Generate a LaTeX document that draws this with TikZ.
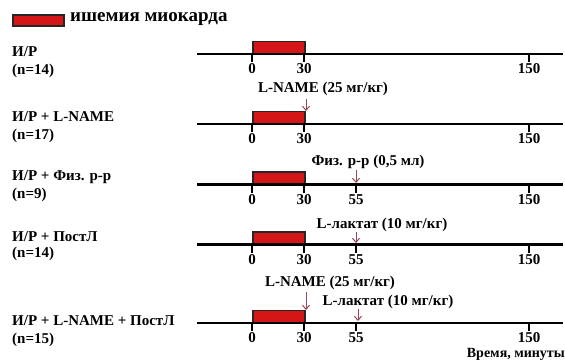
\documentclass[tikz,border=0pt]{standalone}
\usepackage{fontspec}
\setmainfont{Liberation Serif}
\usetikzlibrary{arrows.meta}
\definecolor{ischred}{RGB}{212,22,24}
\definecolor{arrowcol}{RGB}{150,70,85}
\tikzset{
  lbl/.style={font=\bfseries\fontsize{15}{15}\selectfont, inner sep=0pt},
  leftlbl/.style={lbl, anchor=west},
  ticklbl/.style={lbl, anchor=center},
  axis/.style={line width=2.2pt, black},
  tickmark/.style={line width=1.6pt, black},
  ischbox/.style={draw=black!85, line width=1.5pt, fill=ischred},
  inj/.style={draw=arrowcol, line width=1pt, -{Straight Barb[length=4pt,width=7pt]}},
}
\begin{document}
\begin{tikzpicture}[x=1pt,y=-1pt]
\useasboundingbox (0,0) rectangle (565,362);
% legend
\node[ischbox, minimum width=51pt, minimum height=11pt, inner sep=0pt, anchor=north west] (leg) at (12,14) {};
\node[lbl, font=\bfseries\fontsize{19}{19}\selectfont, anchor=west] (legt) at (70,19) {ишемия миокарда};
% rows
\foreach \r/\y/\ya/\yb/\la/\lb in {1/54/52/71/{И/Р}/{(n=14)},2/124/117/136/{И/Р + L-NAME}/{(n=17)},3/184.5/177/195/{И/Р + Физ. р-р}/{(n=9)},4/244.5/237/254/{И/Р + ПостЛ}/{(n=14)},5/323/321/340/{И/Р + L-NAME + ПостЛ}/{(n=15)}}{
  \coordinate (s\r) at (197,\y);
  \coordinate (e\r) at (563,\y);
  \coordinate (z\r) at (252,\y);
  \coordinate (t\r) at (304,\y);
  \coordinate (f\r) at (529,\y);
  \coordinate (zb\r) at (252,\y+8);
  \coordinate (tb\r) at (304,\y+8);
  \coordinate (fb\r) at (529,\y+8);
  \node[ischbox, inner sep=0pt, minimum width=52pt, minimum height=12pt, anchor=south west] (b\r) at (z\r) {};
  \draw[axis] (s\r) -- (e\r);
  \draw[tickmark] (z\r) -- (zb\r);
  \draw[tickmark] (t\r) -- (tb\r);
  \draw[tickmark] (f\r) -- (fb\r);
  \node[ticklbl] (l0\r) at (252,\y+15) {0};
  \node[ticklbl] (l30\r) at (304,\y+15) {30};
  \node[ticklbl] (l150\r) at (529,\y+15) {150};
  \node[leftlbl] (na\r) at (12,\ya) {\la};
  \node[leftlbl] (nb\r) at (12,\yb) {\lb};
}
% 55 ticks
\foreach \r/\y in {3/184.5,4/244.5,5/323}{
  \coordinate (q\r) at (356,\y);
  \coordinate (qb\r) at (356,\y+8);
  \draw[tickmark] (q\r) -- (qb\r);
  \node[ticklbl] (l55\r) at (356,\y+15) {55};
}
% injections
\node[lbl] (d2) at (323,89) {L-NAME (25 мг/кг)};
\coordinate (a2) at (306,99);
\coordinate (a2e) at (306,111);
\draw[inj] (a2) -- (a2e);

\node[lbl] (d3) at (368,162) {Физ. р-р (0,5 мл)};
\coordinate (a3) at (356,170);
\coordinate (a3e) at (356,183);
\draw[inj] (a3) -- (a3e);

\node[lbl] (d4) at (382,225) {L-лактат (10 мг/кг)};
\coordinate (a4) at (356,232);
\coordinate (a4e) at (356,243);
\draw[inj] (a4) -- (a4e);

\node[lbl] (d5a) at (330,283) {L-NAME (25 мг/кг)};
\coordinate (a5) at (306,292);
\coordinate (a5e) at (306,310);
\draw[inj] (a5) -- (a5e);
\node[lbl] (d5b) at (388,302) {L-лактат (10 мг/кг)};
\coordinate (a6) at (358,309);
\coordinate (a6e) at (358,321);
\draw[inj] (a6) -- (a6e);

\node[lbl, anchor=east, font=\bfseries\fontsize{14}{14}\selectfont] (time) at (565,354) {Время, минуты};
\end{tikzpicture}
\end{document}
